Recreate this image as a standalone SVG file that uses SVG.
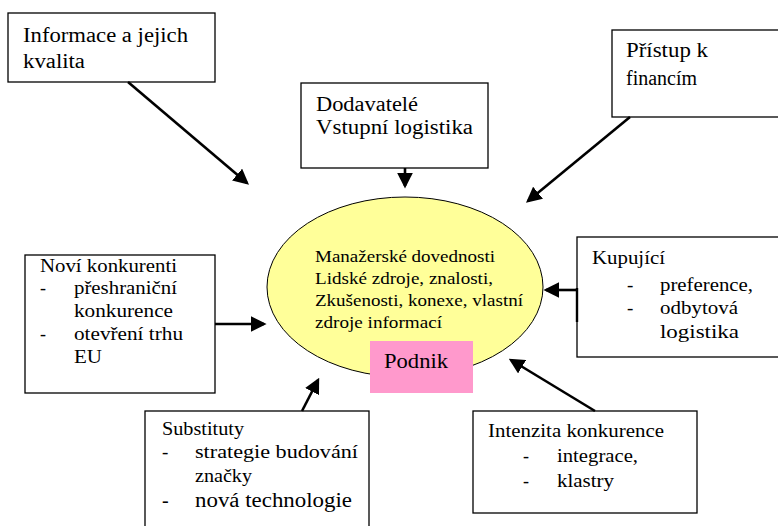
<svg xmlns="http://www.w3.org/2000/svg" width="778" height="526" viewBox="0 0 778 526">
  <style>
    .box { fill: #ffffff; stroke: #000000; stroke-width: 1.3; }
    text { font-family: 'Liberation Serif', 'Times New Roman', serif; fill: #000000; }
    .t { font-size: 20px; }
    .e { font-size: 17px; }
    .s { font-size: 18px; }
    .m { font-size: 19px; }
    .conn { stroke: #000000; stroke-width: 2.6; fill: none; marker-end: url(#arrow); }
  </style>
  <defs>
    <marker id="arrow" markerWidth="6" markerHeight="6" refX="5" refY="3" orient="auto" markerUnits="strokeWidth">
      <path d="M0,0 L6,3 L0,6 Z" fill="#000000"/>
    </marker>
  </defs>
  <rect width="778" height="526" fill="#ffffff"/>

  <!-- central node: the firm and its internal resources -->
  <g id="podnik">
    <ellipse cx="405" cy="287" rx="138" ry="90" fill="#ffff99" stroke="#000000" stroke-width="1"/>
    <text class="e" x="315" y="262" textLength="180" lengthAdjust="spacingAndGlyphs">Manažerské dovednosti</text>
    <text class="e" x="315" y="284" textLength="178" lengthAdjust="spacingAndGlyphs">Lidské zdroje, znalosti,</text>
    <text class="e" x="315" y="306" textLength="208" lengthAdjust="spacingAndGlyphs">Zkušenosti, konexe, vlastní</text>
    <text class="e" x="315" y="328" textLength="127" lengthAdjust="spacingAndGlyphs">zdroje informací</text>
    <rect x="370" y="341" width="103" height="52" fill="#ff99cc"/>
    <text class="t" x="384" y="368" font-size="21" textLength="64" lengthAdjust="spacingAndGlyphs">Podnik</text>
  </g>

  <g id="informace">
    <rect class="box" x="8" y="13" width="207" height="69"/>
    <text class="t" x="23" y="42" textLength="165" lengthAdjust="spacingAndGlyphs">Informace a jejich</text>
    <text class="t" x="23" y="68" textLength="62" lengthAdjust="spacingAndGlyphs">kvalita</text>
  </g>

  <g id="dodavatele">
    <rect class="box" x="301" y="83" width="187" height="85"/>
    <text class="t" x="316" y="111" textLength="102" lengthAdjust="spacingAndGlyphs">Dodavatelé</text>
    <text class="t" x="316" y="134" textLength="157" lengthAdjust="spacingAndGlyphs">Vstupní logistika</text>
  </g>

  <g id="pristup">
    <rect class="box" x="612" y="30" width="170" height="87"/>
    <text class="t" x="626" y="57" textLength="82" lengthAdjust="spacingAndGlyphs">Přístup k</text>
    <text class="t" x="626" y="85" textLength="71" lengthAdjust="spacingAndGlyphs">financím</text>
  </g>

  <g id="novi-konkurenti">
    <rect class="box" x="25" y="255" width="190" height="138"/>
    <text class="s" x="40" y="272" textLength="137" lengthAdjust="spacingAndGlyphs">Noví konkurenti</text>
    <text class="s" x="40" y="294">-</text>
    <text class="s" x="74" y="294" textLength="103" lengthAdjust="spacingAndGlyphs">přeshraniční</text>
    <text class="s" x="74" y="317" textLength="99" lengthAdjust="spacingAndGlyphs">konkurence</text>
    <text class="s" x="40" y="340">-</text>
    <text class="s" x="74" y="340" textLength="109" lengthAdjust="spacingAndGlyphs">otevření trhu</text>
    <text class="s" x="74" y="363" textLength="28" lengthAdjust="spacingAndGlyphs">EU</text>
  </g>

  <g id="kupujici">
    <rect class="box" x="577" y="237" width="205" height="120"/>
    <text class="m" x="592" y="264" textLength="73" lengthAdjust="spacingAndGlyphs">Kupující</text>
    <text class="m" x="627" y="291">-</text>
    <text class="m" x="660" y="291" textLength="93" lengthAdjust="spacingAndGlyphs">preference,</text>
    <text class="m" x="627" y="314">-</text>
    <text class="m" x="660" y="314" textLength="78" lengthAdjust="spacingAndGlyphs">odbytová</text>
    <text class="m" x="660" y="338" textLength="79" lengthAdjust="spacingAndGlyphs">logistika</text>
  </g>

  <g id="substituty">
    <rect class="box" x="145" y="411" width="224" height="120"/>
    <text class="m" x="162" y="435" textLength="82" lengthAdjust="spacingAndGlyphs">Substituty</text>
    <text class="m" x="162" y="458">-</text>
    <text class="m" x="195" y="458" textLength="163" lengthAdjust="spacingAndGlyphs">strategie budování</text>
    <text class="m" x="195" y="482" textLength="57" lengthAdjust="spacingAndGlyphs">značky</text>
    <text class="t" x="162" y="507">-</text>
    <text class="t" x="195" y="507" textLength="157" lengthAdjust="spacingAndGlyphs">nová technologie</text>
  </g>

  <g id="intenzita">
    <rect class="box" x="473" y="411" width="224" height="102"/>
    <text class="s" x="488" y="437" textLength="176" lengthAdjust="spacingAndGlyphs">Intenzita konkurence</text>
    <text class="s" x="523" y="462">-</text>
    <text class="s" x="557" y="462" textLength="81" lengthAdjust="spacingAndGlyphs">integrace,</text>
    <text class="s" x="523" y="487">-</text>
    <text class="s" x="557" y="487" textLength="57" lengthAdjust="spacingAndGlyphs">klastry</text>
  </g>

  <!-- connectors: every influence points at the firm -->
  <g id="connectors">
    <line class="conn" x1="128" y1="82" x2="247" y2="183"/>
    <line class="conn" x1="405" y1="168" x2="405" y2="186"/>
    <line class="conn" x1="630" y1="117" x2="528" y2="201"/>
    <line class="conn" x1="215" y1="324" x2="264" y2="324"/>
    <line x1="577" y1="288" x2="577" y2="322" stroke="#000000" stroke-width="2.4"/>
    <line class="conn" x1="577" y1="290" x2="546" y2="290"/>
    <line class="conn" x1="302" y1="411" x2="318" y2="380"/>
    <line class="conn" x1="595" y1="411" x2="511" y2="360"/>
  </g>
</svg>
